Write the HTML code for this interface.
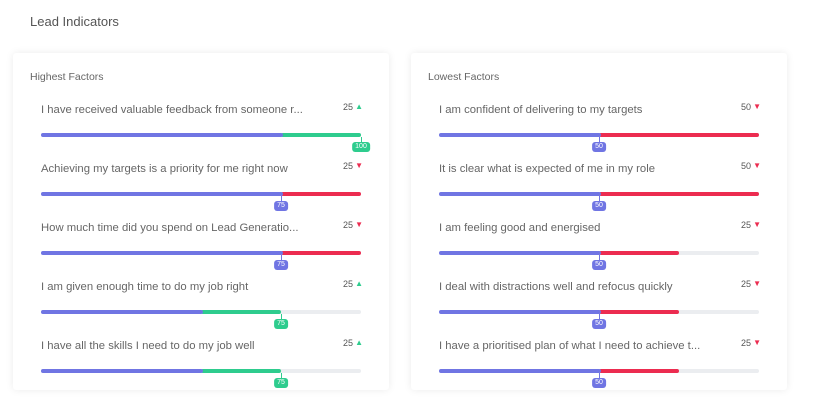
<!DOCTYPE html>
<html><head><meta charset="utf-8"><style>
body{margin:0;width:816px;height:412px;background:#fff;font-family:"Liberation Sans",sans-serif;position:relative;overflow:hidden}
.title{position:absolute;left:30px;top:14px;font-size:13px;color:#555}
.card{position:absolute;top:53px;width:376px;height:337px;background:#fff;box-shadow:0 0 8px rgba(0,0,0,0.08);border-radius:3px}
.ct{position:absolute;left:17px;top:18px;font-size:10.5px;color:#666}
.row{position:absolute;left:0;width:376px;height:59px}
.lbl{position:absolute;left:28px;top:1px;font-size:11.3px;color:#666;white-space:nowrap}
.val{position:absolute;right:36px;top:-1px;font-size:9px;color:#555}
.arr{position:absolute;right:26px;top:-1px;font-size:8px}
.track{position:absolute;left:28px;top:30px;width:320px;height:4px;border-radius:2px;background:#ebedf0}
.seg{position:absolute;top:0;height:4px;border-radius:2px}
.mk{position:absolute;top:4px;width:1px;height:6px}
.tag{position:absolute;top:9px;height:10px;line-height:10px;padding:0 3px;border-radius:3px;font-size:7px;color:#fff;transform:translateX(-50%)}
</style></head><body>
<div class="title">Lead Indicators</div>
<div class="card" style="left:13px" id="c1"><div class="ct">Highest Factors</div></div>
<div class="card" style="left:411px" id="c2"><div class="ct">Lowest Factors</div></div>
<script>
const highLabels=["I have received valuable feedback from someone r...","Achieving my targets is a priority for me right now","How much time did you spend on Lead Generatio...","I am given enough time to do my job right","I have all the skills I need to do my job well"];
const highPrev=[75,100,100,50,50];
const highCurr=[100,75,75,75,75];
const lowLabels=["I am confident of delivering to my targets","It is clear what is expected of me in my role","I am feeling good and energised","I deal with distractions well and refocus quickly","I have a prioritised plan of what I need to achieve t..."];
const lowPrev=[100,100,75,75,75];
const lowCurr=[50,50,50,50,50];
const BLUE="#7075e3",GREEN="#2ecc8e",RED="#ec2c50";
function x(v){return v/100*320;}
function build(card,labels,prev,curr){
  labels.forEach((t,i)=>{
    const r=document.createElement('div');r.className='row';r.style.top=(50+i*59)+'px';
    
    
    const up=curr[i]>=prev[i];const d=Math.abs(curr[i]-prev[i]);
    const lo=Math.min(prev[i],curr[i]),hi=Math.max(prev[i],curr[i]);
    const col=up?GREEN:RED;
    const mc=up?GREEN:BLUE;
    r.innerHTML='<div class="lbl">'+t+'</div><div class="val">'+d+'</div><div class="arr" style="color:'+col+'">'+(up?'▲':'▼')+'</div>'+
    '<div class="track"><div class="seg" style="left:'+x(lo)+'px;width:'+(x(hi)-x(lo))+'px;background:'+col+'"></div>'+
    '<div class="seg" style="left:0;width:'+(x(lo)+2)+'px;background:'+BLUE+'"></div>'+
    '<div class="mk" style="left:'+x(curr[i])+'px;background:'+mc+'"></div>'+
    '<div class="tag" style="left:'+x(curr[i])+'px;background:'+mc+'">'+curr[i]+'</div></div>';
    const lbl=r.querySelector('.lbl');
    const v=r.querySelector('.val');
    const a=r.querySelector('.arr');
    const tr=r.querySelector('.track');
    const tg=r.querySelector('.tag');
    card.appendChild(r);
  });
}
build(document.getElementById('c1'),highLabels,highPrev,highCurr);
build(document.getElementById('c2'),lowLabels,lowPrev,lowCurr);
</script>
</body></html>
